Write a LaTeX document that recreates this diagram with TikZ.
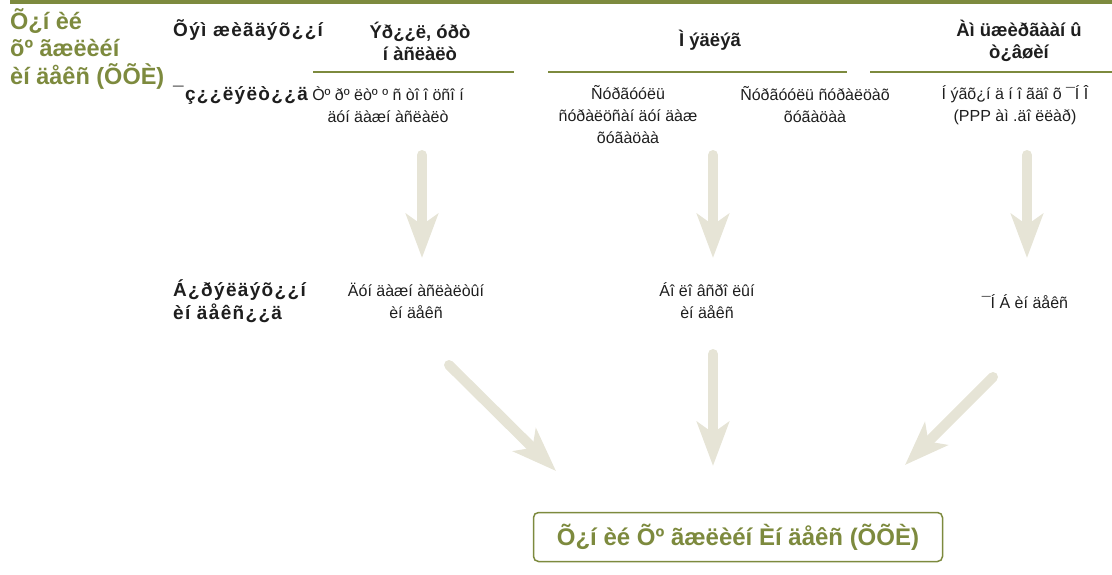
\documentclass[tikz,border=0pt]{standalone}
\usepackage{fontspec}
\setmainfont{Liberation Sans}
\newfontfamily\spacedbold{Liberation Sans}[LetterSpace=7]
\usetikzlibrary{arrows.meta,positioning}
\definecolor{hdiGreen}{HTML}{7D8A3E}
\definecolor{paleArrow}{HTML}{E6E4D6}
\definecolor{ink}{HTML}{1E1E1E}
\tikzset{
titletext/.style={font=\bfseries\fontsize{23.5}{27.5}\selectfont,text=hdiGreen,align=left,inner sep=0pt},
rowlabel/.style={font=\spacedbold\bfseries\fontsize{19}{23}\selectfont,text=ink,align=left,inner sep=0pt},
hdr/.style={font=\bfseries\fontsize{18.5}{22}\selectfont,text=ink,align=center,inner sep=0pt},
cell/.style={font=\fontsize{16}{22}\selectfont,text=ink,align=center,inner sep=0pt},
bar/.style={hdiGreen,line width=2pt},
bigarrow/.style={paleArrow,line width=10pt,line cap=round,-{Stealth[length=44pt,width=32pt,inset=11pt]}},
result/.style={draw=hdiGreen,line width=1.5pt,rounded corners=5pt,minimum width=409pt,minimum height=49pt,font=\bfseries\fontsize{24}{26}\selectfont,text=hdiGreen}
}
\begin{document}
\begin{tikzpicture}[x=1pt,y=-1pt]
\useasboundingbox (0,0) rectangle (1112,575);
\draw[hdiGreen,line width=4pt](10,2)--(1112,2);
% headers
\node[titletext,anchor=north west](hdi) at (10,8){Õ¿í èé\\õº ãæëèéí\\èí äåêñ (ÕÕÈ)};
\node[rowlabel,anchor=west](dim) at (173,30){Õýì æèãäýõ¿¿í};
\node[hdr](health) at (420,41){Ýð¿¿ë, óðò\\í àñëàëò};
\node[hdr](know) at (710,40){Ì ýäëýã};
\node[hdr](living) at (1019,41){Àì üæèðãààí û\\ò¿âøèí};
\draw[bar](313,72)--(514,72);\draw[bar](548,72)--(847,72);\draw[bar](870,72)--(1112,72);
% indicators
\node[rowlabel,anchor=west](ind) at (173,95){¯ç¿¿ëýëò¿¿ä};
\node[cell](lifeexp) at (388,105){Òº ðº ëòº º ñ òî î öñî í\\äóí äàæí àñëàëò};
\node[cell](meanyrs) at (628,115){Ñóðãóóëü\\ñóðàëöñàí  äóí äàæ\\õóãàöàà};
\node[cell](expyrs) at (815,105){Ñóðãóóëü ñóðàëöàõ\\õóãàöàà};
\node[cell](gni) at (1015,105){Í ýãõ¿í ä í î ãäî õ ¯Í Î\\(PPP àì .äî ëëàð)};
% component indices
\node[rowlabel,anchor=west](comp) at (173,301){Á¿ðýëäýõ¿¿í\\èí äåêñ¿¿ä};
\node[cell](lifeidx) at (416,301){Äóí äàæí àñëàëòûí\\èí äåêñ};
\node[cell](eduidx) at (707,301){Áî ëî âñðî ëûí\\èí äåêñ};
\node[cell](gniidx) at (1025,302){¯Í Á èí äåêñ};
% final index
\node[result](final) at (738,537){Õ¿í èé Õº ãæëèéí  Èí äåêñ (ÕÕÈ)};
% arrows
\coordinate (a1) at (422,155);\coordinate (b1) at (422,258);
\coordinate (a2) at (713,155);\coordinate (b2) at (713,258);
\coordinate (a3) at (1027,155);\coordinate (b3) at (1027,258);
\coordinate (c1) at (449,365);\coordinate (c2) at (713,354);\coordinate (c3) at (993,377);
\coordinate (d1) at (556,471);\coordinate (d2) at (713,466);\coordinate (d3) at (905,465);
\draw[bigarrow](a1)--(b1);\draw[bigarrow](a2)--(b2);\draw[bigarrow](a3)--(b3);
\draw[bigarrow](c1)--(d1);\draw[bigarrow](c2)--(d2);\draw[bigarrow](c3)--(d3);
\end{tikzpicture}
\end{document}
